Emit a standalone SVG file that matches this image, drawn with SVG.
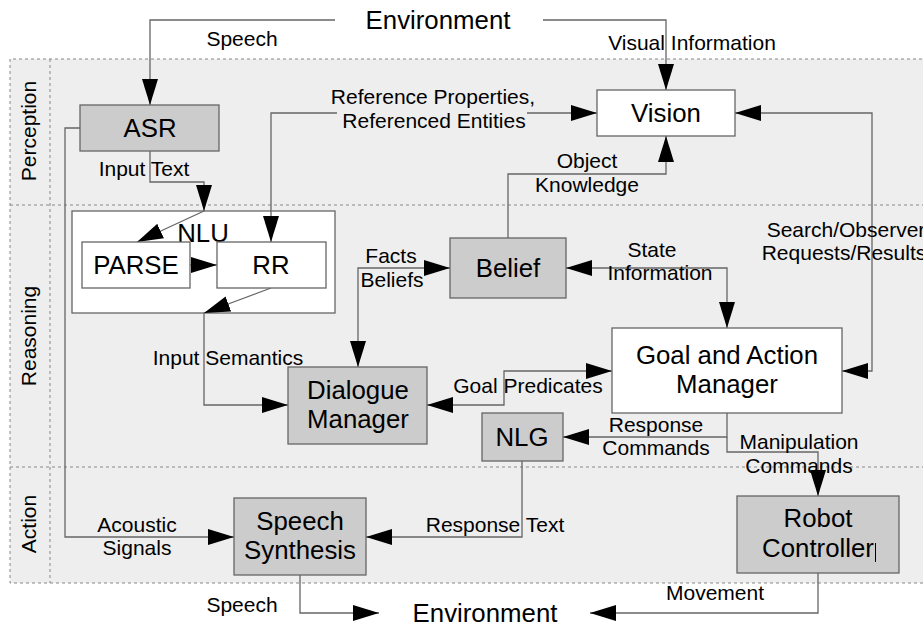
<svg xmlns="http://www.w3.org/2000/svg" width="923" height="622" viewBox="0 0 923 622">
<style>
text{font-family:"Liberation Sans",Arial,sans-serif;fill:#000}
.n{font-size:25.8px;text-anchor:middle}
.l{font-size:21px;text-anchor:middle}
.g{fill:#cccccc;stroke:#666;stroke-width:1.3}
.w{fill:#fff;stroke:#666;stroke-width:1.3}
.c{fill:none;stroke:#666;stroke-width:1.3}
.d{fill:none;stroke:#888;stroke-width:1;stroke-dasharray:3,3}
</style>
<defs>
<marker id="ah" markerUnits="userSpaceOnUse" markerWidth="26" markerHeight="16" refX="26" refY="8" orient="auto-start-reverse" viewBox="0 0 26 16"><path d="M0,0 L26,8 L0,16 z" fill="#000"/></marker>
</defs>
<rect width="923" height="622" fill="#fff"/>
<g id="frame">
<rect x="10" y="59" width="930" height="524" fill="#eeeeee"/>
<path class="d" d="M940,59 H10 V583 H940 M50,59 V583 M10,205 H923 M10,467 H923"/>
<text class="l" transform="rotate(-90 36 131)" x="36" y="131">Perception</text>
<text class="l" transform="rotate(-90 36 336)" x="36" y="336">Reasoning</text>
<text class="l" transform="rotate(-90 36 524)" x="36" y="524">Action</text>
</g>
<g id="nlu"><rect class="w" x="72" y="211" width="263" height="102"/><text class="n" x="203" y="242">NLU</text></g>
<g id="connectors">
<path class="c" d="M335,20 H150 V105" marker-end="url(#ah)"/>
<path class="c" d="M543,20 H666 V90" marker-end="url(#ah)"/>
<path class="c" d="M150,151 V182 H204 V211" marker-end="url(#ah)"/>
<path class="c" d="M204,211 L137,242" marker-end="url(#ah)"/>
<path class="c" d="M190,265 H217" marker-end="url(#ah)"/>
<path class="c" d="M271,242 V113 H597" marker-start="url(#ah)" marker-end="url(#ah)"/>
<path class="c" d="M271,288 L204,313" marker-end="url(#ah)"/>
<path class="c" d="M204,313 V405 H288" marker-end="url(#ah)"/>
<path class="c" d="M358,367 V268 H450" marker-start="url(#ah)" marker-end="url(#ah)"/>
<path class="c" d="M508,238 V174 H666 V136" marker-end="url(#ah)"/>
<path class="c" d="M735,113 H872 V371 H842" marker-start="url(#ah)" marker-end="url(#ah)"/>
<path class="c" d="M566,268 H727 V328" marker-start="url(#ah)" marker-end="url(#ah)"/>
<path class="c" d="M427,405 H504 V371 H612" marker-start="url(#ah)" marker-end="url(#ah)"/>
<path class="c" d="M727,413 V437 H563" marker-end="url(#ah)"/>
<path class="c" d="M727,437 V452 H818 V496" marker-end="url(#ah)"/>
<path class="c" d="M80,128 H65 V537 H234" marker-end="url(#ah)"/>
<path class="c" d="M522,461 V537 H366" marker-end="url(#ah)"/>
<path class="c" d="M300,575 V613 H379" marker-end="url(#ah)"/>
<path class="c" d="M818,573 V613 H590" marker-end="url(#ah)"/>
</g>
<g id="labels">
<text class="n" x="438" y="29">Environment</text>
<text class="n" x="485" y="622">Environment</text>
<text class="l" x="242" y="46">Speech</text>
<text class="l" x="692" y="50">Visual Information</text>
<rect x="337" y="109" width="190" height="8" fill="#eeeeee"/>
<text class="l" x="433" y="104">Reference Properties,</text>
<text class="l" x="434" y="128">Referenced Entities</text>
<text class="l" x="144" y="176">Input Text</text>
<text class="l" x="587" y="168">Object</text>
<text class="l" x="587" y="192">Knowledge</text>
<text class="l" x="391" y="263">Facts</text>
<text class="l" x="392" y="287">Beliefs</text>
<text class="l" x="652" y="257">State</text>
<text class="l" x="660" y="280">Information</text>
<text class="l" x="846" y="237">Search/Observer</text>
<text class="l" x="844" y="260">Requests/Results</text>
<text class="l" x="228" y="365">Input Semantics</text>
<text class="l" x="528" y="393">Goal Predicates</text>
<text class="l" x="656" y="432">Response</text>
<text class="l" x="656" y="455">Commands</text>
<text class="l" x="799" y="449">Manipulation</text>
<text class="l" x="799" y="473">Commands</text>
<text class="l" x="137" y="532">Acoustic</text>
<text class="l" x="137" y="555">Signals</text>
<text class="l" x="495" y="532">Response Text</text>
<text class="l" x="242" y="612">Speech</text>
<text class="l" x="715" y="600">Movement</text>
</g>
<g id="asr"><rect class="g" x="80" y="105" width="139" height="46"/><text class="n" x="150" y="137">ASR</text></g>
<g id="vision"><rect class="w" x="597" y="90" width="138" height="46"/><text class="n" x="666" y="122">Vision</text></g>
<g id="parse"><rect class="w" x="82" y="242" width="108" height="46"/><text class="n" x="136" y="274">PARSE</text></g>
<g id="rr"><rect class="w" x="217" y="242" width="109" height="46"/><text class="n" x="271" y="274">RR</text></g>
<g id="belief"><rect class="g" x="450" y="238" width="116" height="60"/><text class="n" x="508" y="277">Belief</text></g>
<g id="dialogue"><rect class="g" x="288" y="367" width="139" height="77"/><text class="n" x="358" y="399">Dialogue</text><text class="n" x="358" y="428">Manager</text></g>
<g id="gam"><rect class="w" x="612" y="328" width="230" height="85"/><text class="n" x="727" y="364">Goal and Action</text><text class="n" x="727" y="393">Manager</text></g>
<g id="nlg"><rect class="g" x="482" y="413" width="81" height="48"/><text class="n" x="522" y="446">NLG</text></g>
<g id="speechsynth"><rect class="g" x="234" y="498" width="132" height="77"/><text class="n" x="300" y="530">Speech</text><text class="n" x="300" y="559">Synthesis</text></g>
<g id="robot"><rect class="g" x="737" y="496" width="162" height="77"/><text class="n" x="818" y="527">Robot</text><text class="n" x="818" y="557">Controller</text><path d="M875.5,543 V562" stroke="#000" stroke-width="1"/></g>
</svg>
